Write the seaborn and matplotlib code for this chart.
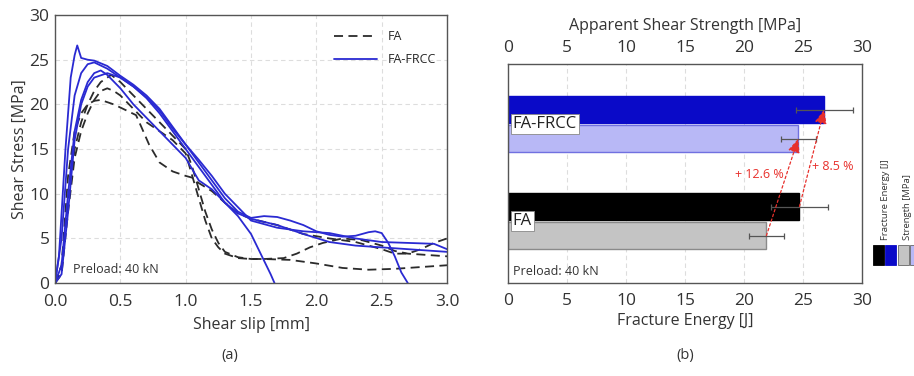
import numpy as np
import pandas as pd
import matplotlib
matplotlib.use("Agg")
import matplotlib.pyplot as plt
import seaborn as sns
from matplotlib.lines import Line2D
from matplotlib.patches import Rectangle

sns.set_theme(style="white")
plt.rcParams['font.family'] = ['Open Sans', 'DejaVu Sans']

# ---------------- data: panel (a) ----------------
fa1_x = [0, 0.05, 0.1, 0.15, 0.2, 0.25, 0.3, 0.35, 0.45, 0.55, 0.62, 0.66, 0.72, 0.8, 0.9, 1.0, 1.05, 1.1, 1.2, 1.3,
         1.4, 1.5, 1.7, 1.9, 2.1, 2.3, 2.5, 2.6, 2.7, 2.8, 2.9, 3.0]
fa1_y = [0, 2, 12, 17, 19, 20, 20.4, 20.5, 20.0, 19.3, 18.8, 17.5, 15.5, 13.5, 12.5, 12.0, 11.8, 11.2, 10.3, 9.0,
         7.8, 7.2, 6.5, 5.5, 5.0, 4.6, 3.8, 3.3, 3.3, 3.8, 4.5, 5.0]
fa2_x = [0, 0.05, 0.1, 0.15, 0.2, 0.25, 0.3, 0.35, 0.4, 0.45, 0.5, 0.6, 0.7, 0.8, 0.9, 1.0, 1.05, 1.1, 1.15, 1.2,
         1.25, 1.3, 1.4, 1.5, 1.6, 1.8, 2.0, 2.2, 2.4, 2.6, 2.8, 3.0]
fa2_y = [0, 1, 8, 14, 17, 19, 20.5, 21.5, 21.8, 21.5, 21.0, 19.5, 18.0, 17.0, 16.0, 14.5, 12.0, 9.5, 7.0, 5.0,
         4.0, 3.3, 2.8, 2.7, 2.7, 2.6, 2.2, 1.7, 1.5, 1.6, 1.8, 2.0]
fa3_x = [0, 0.05, 0.1, 0.15, 0.2, 0.25, 0.3, 0.35, 0.43, 0.5, 0.6, 0.7, 0.8, 0.9, 1.0, 1.05, 1.1, 1.15, 1.2, 1.25,
         1.3, 1.4, 1.5, 1.6, 1.75, 1.85, 1.95, 2.05, 2.2, 2.35, 2.5, 2.6, 2.7, 2.8, 2.9, 3.0]
fa3_y = [0, 1.5, 9, 15, 18, 20, 21.5, 22.5, 23.3, 22.5, 21.0, 19.5, 18.0, 16.5, 15.0, 13.0, 10.5, 8.0, 6.0, 4.5,
         3.5, 2.9, 2.7, 2.7, 2.8, 3.3, 4.0, 4.5, 5.0, 4.8, 4.2, 3.6, 3.3, 3.2, 3.1, 3.0]

frcc1_x = [0, 0.03, 0.08, 0.12, 0.15, 0.17, 0.2, 0.25, 0.3, 0.4, 0.5, 0.6, 0.7, 0.8, 0.9, 1.0, 1.1, 1.2, 1.3, 1.4,
           1.5, 1.6, 1.7, 1.8, 1.9, 2.0, 2.1, 2.2, 2.3, 2.4, 2.45, 2.5, 2.55, 2.6, 2.65, 2.7]
frcc1_y = [0, 3, 15, 23, 25.5, 26.6, 25.2, 25.0, 24.9, 24.3, 23.2, 22.2, 21.0, 19.5, 17.5, 15.5, 13.5, 11.5, 9.5, 8.0,
           7.3, 7.5, 7.4, 7.0, 6.5, 5.8, 5.4, 5.2, 5.3, 5.7, 5.8, 5.6, 4.5, 3.0, 1.2, 0]
frcc2_x = [0, 0.05, 0.1, 0.15, 0.2, 0.25, 0.3, 0.4, 0.5, 0.6, 0.7, 0.8, 0.9, 1.0, 1.1, 1.2, 1.3, 1.4, 1.5, 1.55,
           1.6, 1.65, 1.68]
frcc2_y = [0, 5, 15, 21, 23.5, 24.5, 24.7, 24.0, 23.0, 22.0, 20.7, 19.0, 17.0, 15.0, 13.0, 11.0, 9.0, 7.5, 5.5, 4.0,
           2.5, 1.0, 0]
frcc3_x = [0, 0.05, 0.1, 0.15, 0.2, 0.25, 0.3, 0.35, 0.4, 0.5, 0.6, 0.7, 0.8, 0.9, 1.0, 1.1, 1.2, 1.3, 1.4, 1.5,
           1.7, 1.9, 2.1, 2.3, 2.5, 2.7, 2.9, 3.0]
frcc3_y = [0, 2, 10, 17, 20.5, 22.5, 23.5, 23.8, 23.3, 21.8, 20.0, 18.5, 17.0, 15.5, 14.0, 11.5, 10.5, 9.0, 7.8, 7.2,
           6.5, 5.5, 4.6, 4.2, 4.0, 3.8, 3.6, 3.5]
frcc4_x = [0, 0.05, 0.1, 0.15, 0.2, 0.25, 0.3, 0.4, 0.5, 0.6, 0.7, 0.8, 0.9, 1.0, 1.1, 1.2, 1.3, 1.4, 1.5, 1.7,
           1.9, 2.1, 2.3, 2.5, 2.7, 2.9, 3.0]
frcc4_y = [0, 1, 8, 16, 20, 22, 23, 23.5, 23.0, 22.0, 20.8, 19.3, 17.3, 15.5, 13.8, 12.0, 10.0, 8.5, 7.0, 6.2,
           5.8, 5.6, 5.0, 4.6, 4.5, 4.4, 3.8]

# ---------------- data: panel (b) ----------------
groups = ['FA-FRCC', 'FA']
energy = [26.8, 24.7]          # Fracture energy [J]
energy_err = [2.4, 2.4]
strength = [24.6, 21.9]        # Apparent shear strength [MPa]
strength_err = [1.5, 1.5]
pct_labels = ['+ 12.6 %', '+ 8.5 %']

# ---------------- figure ----------------
fig = plt.figure(figsize=(9.14, 3.76), dpi=100)
axA = fig.add_axes([0.0602, 0.247, 0.4289, 0.713])
axB = fig.add_axes([0.5558, 0.247, 0.3873, 0.583])

TICK_FS = 12.5
LAB_FS = 11.5
BLUE = '#2a2ad2'
rows = []
for name, xs, ys, grp in [('fa1', fa1_x, fa1_y, 'FA'), ('fa2', fa2_x, fa2_y, 'FA'), ('fa3', fa3_x, fa3_y, 'FA'),
                          ('f1', frcc1_x, frcc1_y, 'FA-FRCC'), ('f2', frcc2_x, frcc2_y, 'FA-FRCC'),
                          ('f3', frcc3_x, frcc3_y, 'FA-FRCC'), ('f4', frcc4_x, frcc4_y, 'FA-FRCC')]:
    for x, y in zip(xs, ys):
        rows.append({'slip': x, 'stress': y, 'specimen': name, 'group': grp})
dfA = pd.DataFrame(rows)

sns.lineplot(data=dfA, x='slip', y='stress', units='specimen', estimator=None, hue='group', style='group',
             palette={'FA': '#2b2b2b', 'FA-FRCC': BLUE}, dashes={'FA': (5, 3), 'FA-FRCC': ''},
             linewidth=1.3, legend=False, ax=axA, sort=False)

axA.set_xlim(0, 3.0)
axA.set_ylim(0, 30)
axA.set_xticks(np.arange(0, 3.01, 0.5))
axA.set_xticklabels([f'{v:.1f}' for v in np.arange(0, 3.01, 0.5)])
axA.set_yticks(np.arange(0, 31, 5))
axA.grid(True, color='#dddddd', linestyle=(0, (4, 3)), linewidth=0.8)
axA.set_axisbelow(True)
axA.set_xlabel('Shear slip [mm]', fontsize=LAB_FS, color='#333333', labelpad=5)
axA.set_ylabel('Shear Stress [MPa]', fontsize=LAB_FS, color='#333333', labelpad=1)
axA.tick_params(axis='x', labelsize=TICK_FS, colors='#333333', length=0, pad=8)
axA.tick_params(axis='y', labelsize=TICK_FS, colors='#333333', length=0, pad=4)
for s in axA.spines.values():
    s.set_color('#555555')
    s.set_linewidth(1.0)
handles = [Line2D([], [], color='#2b2b2b', linestyle=(0, (5, 3)), linewidth=1.3),
           Line2D([], [], color=BLUE, linewidth=1.3)]
axA.legend(handles, ['FA', 'FA-FRCC'], loc='upper right', frameon=False, fontsize=9,
           handlelength=3.5, bbox_to_anchor=(1.0, 0.985), labelspacing=0.8)
axA.text(0.045, 0.025, 'Preload: 40 kN', transform=axA.transAxes, fontsize=9, color='#333333',
         ha='left', va='bottom')

# ---------------- panel (b) ----------------
dfB = pd.DataFrame({
    'group': groups * 2,
    'measure': ['Energy'] * 2 + ['Strength'] * 2,
    'value': energy + strength,
})
sns.barplot(data=dfB, y='group', x='value', hue='measure', order=groups, hue_order=['Energy', 'Strength'],
            orient='h', width=0.6, gap=0.07, legend=False, ax=axB, errorbar=None)

colors = {('FA-FRCC', 'Energy'): ('#0a0ac8', '#0a0ac8'),
          ('FA-FRCC', 'Strength'): ('#b8b8f6', '#7070e0'),
          ('FA', 'Energy'): ('#000000', '#000000'),
          ('FA', 'Strength'): ('#c4c4c4', '#8a8a8a')}
bar_info = {}
for p in axB.patches:
    yc = p.get_y() + p.get_height() / 2
    g = groups[int(round(yc))]
    m = 'Energy' if yc < round(yc) else 'Strength'
    fc, ec = colors[(g, m)]
    p.set_facecolor(fc)
    p.set_edgecolor(ec)
    p.set_linewidth(1.0)
    p.set_alpha(1)
    bar_info[(g, m)] = (p.get_width(), yc)

for i, g in enumerate(groups):
    w, yc = bar_info[(g, 'Energy')]
    axB.errorbar(w, yc, xerr=energy_err[i], fmt='none', ecolor='#555555', elinewidth=0.9, capsize=2.5,
                 capthick=0.9, zorder=5)
    w, yc = bar_info[(g, 'Strength')]
    axB.errorbar(w, yc, xerr=strength_err[i], fmt='none', ecolor='#555555', elinewidth=0.9, capsize=2.5,
                 capthick=0.9, zorder=5)

RED = '#e8302c'
for m in ['Strength', 'Energy']:
    x0, y0 = bar_info[('FA', m)]
    x1, y1 = bar_info[('FA-FRCC', m)]
    axB.annotate('', xy=(x1, y1), xytext=(x0, y0),
                 arrowprops=dict(arrowstyle='-|>,head_length=0.7,head_width=0.3', color=RED,
                                 linestyle=(0, (2, 2)), linewidth=0.9, shrinkA=0, shrinkB=0), zorder=6)
axB.text(19.2, 0.52, pct_labels[0], color=RED, fontsize=9, ha='left', va='center')
axB.text(25.8, 0.44, pct_labels[1], color=RED, fontsize=9, ha='left', va='center')

axB.set_xlim(0, 30)
axB.set_ylim(1.64, -0.62)
axB.set_xticks(np.arange(0, 31, 5))
axB.set_yticks([])
axB.set_ylabel('')
axB.set_xlabel('Fracture Energy [J]', fontsize=LAB_FS, color='#333333', labelpad=3)
axB.tick_params(axis='x', labelsize=TICK_FS, colors='#333333', length=0, pad=7)
axB.grid(True, axis='x', color='#dddddd', linestyle=(0, (4, 3)), linewidth=0.8)
axB.set_axisbelow(True)
for s in axB.spines.values():
    s.set_color('#555555')
    s.set_linewidth(1.0)

axT = axB.twiny()
axT.set_xlim(0, 30)
axT.set_xticks(np.arange(0, 31, 5))
axT.tick_params(axis='x', labelsize=TICK_FS, colors='#333333', length=0, pad=6)
axT.set_xlabel('Apparent Shear Strength [MPa]', fontsize=LAB_FS, color='#333333', labelpad=7)
for s in axT.spines.values():
    s.set_visible(False)

for i, g in enumerate(groups):
    axB.text(0.4, i, g, fontsize=12, color='#222222', ha='left', va='center', zorder=7,
             bbox=dict(boxstyle='square,pad=0.12', facecolor='white', edgecolor='#888888', linewidth=0.6))
axB.text(0.015, 0.025, 'Preload: 40 kN', transform=axB.transAxes, fontsize=9, color='#333333',
         ha='left', va='bottom')

# custom side legend
sq = [(873, '#000000'), (885, '#0a0ac8'), (898, '#c4c4c4'), (910, '#b8b8f6')]
for px, c in sq:
    fig.patches.append(Rectangle((px / 914, (376 - 265) / 376), 11 / 914, 20 / 376, transform=fig.transFigure,
                                 facecolor=c, edgecolor='#666666' if c in ('#c4c4c4', '#b8b8f6') else c,
                                 linewidth=0.6))
fig.text(885 / 914, (376 - 240) / 376, 'Fracture Energy [J]', rotation=90, fontsize=6.8, color='#333333',
         ha='center', va='bottom')
fig.text(908 / 914, (376 - 240) / 376, 'Strength [MPa]', rotation=90, fontsize=6.8, color='#333333',
         ha='center', va='bottom')

fig.text(230 / 914, (376 - 356) / 376, '(a)', fontsize=10.5, color='#333333', ha='center', va='center')
fig.text(685 / 914, (376 - 356) / 376, '(b)', fontsize=10.5, color='#333333', ha='center', va='center')

fig.savefig('out.png', dpi=100)
